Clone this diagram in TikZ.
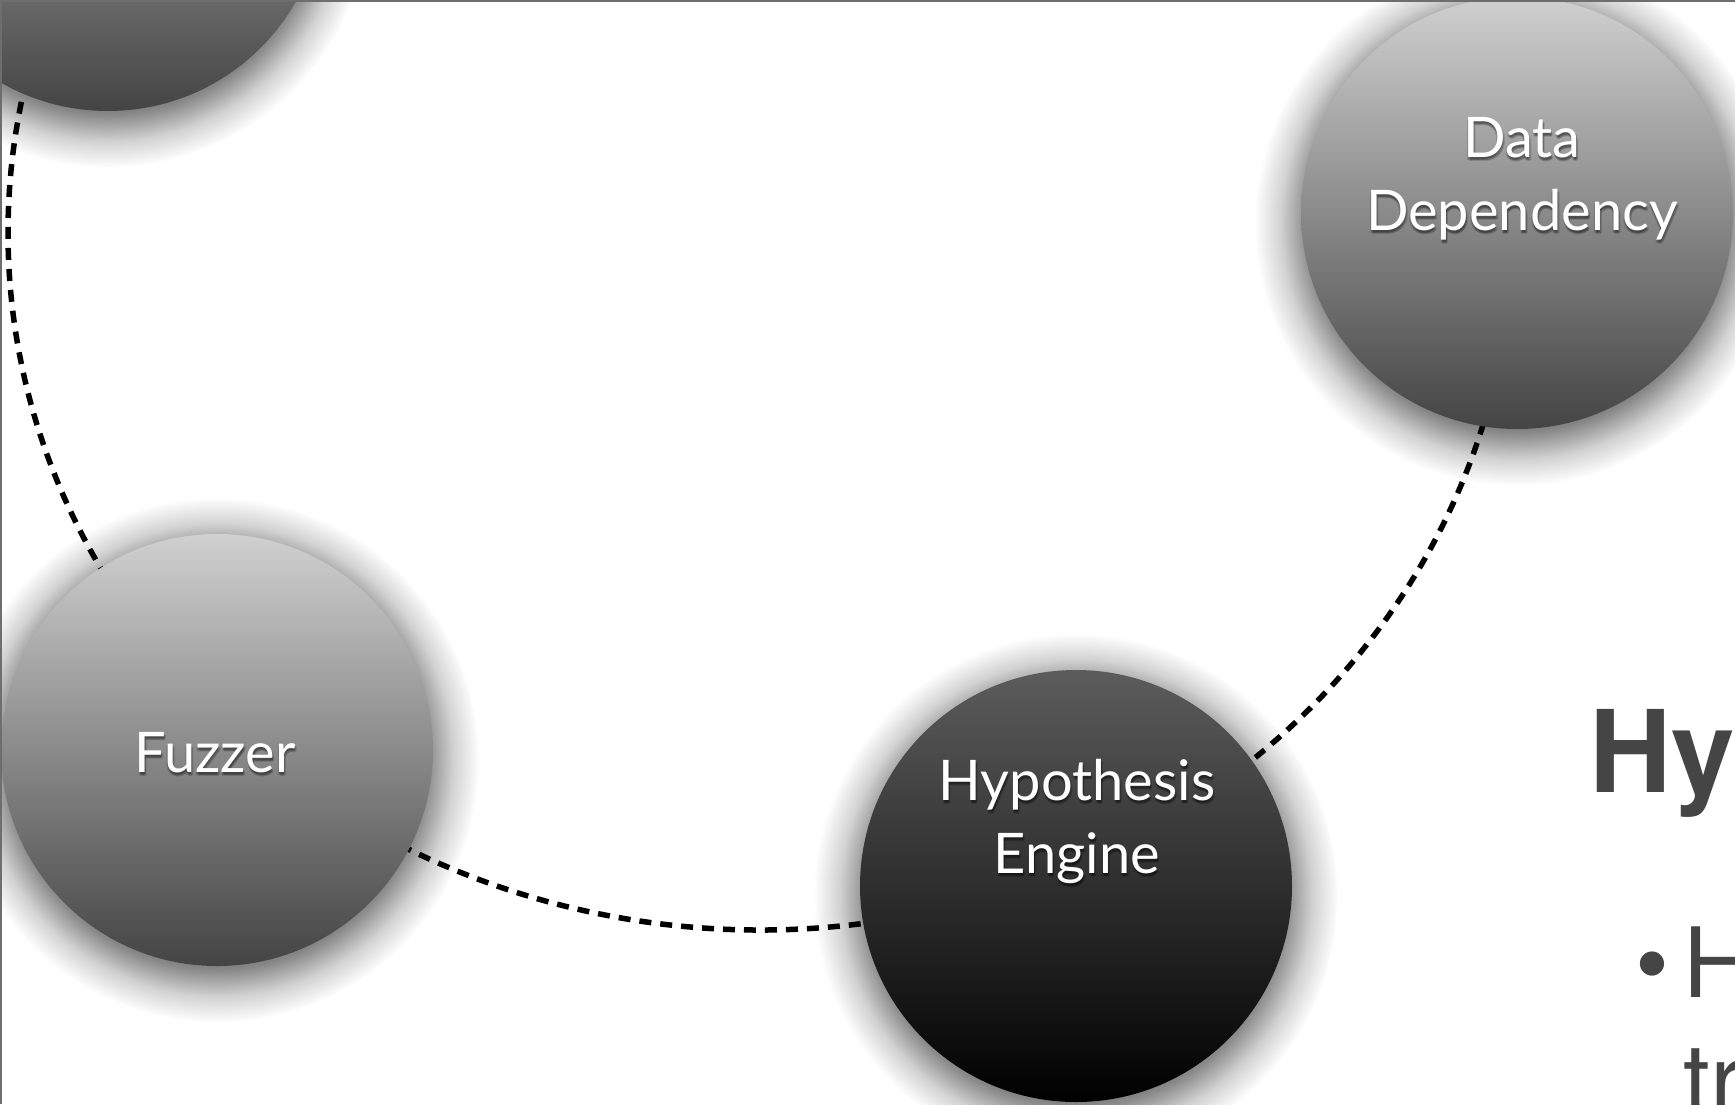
\documentclass[tikz,border=0pt]{standalone}
\usepackage{fontspec}
\usetikzlibrary{fadings}
\newfontfamily\gill{Lato}
\newfontfamily\heros{TeX Gyre Heros}

\definecolor{paleTop}{HTML}{D0D0D0}
\definecolor{paleBot}{HTML}{444444}
\definecolor{darkTop}{HTML}{5C5C5C}
\definecolor{darkBot}{HTML}{000000}
\definecolor{slideText}{HTML}{454545}
\definecolor{frameGray}{HTML}{6E6E6E}

\pgfdeclarelayer{under}
\pgfdeclarelayer{over}
\pgfsetlayers{under,main,over}

% soft round shadow: opaque core, blurred rim
\pgfdeclareradialshading{haloshade}{\pgfpointorigin}{%
  color(0bp)=(pgftransparent!0); color(17bp)=(pgftransparent!0);
  color(20bp)=(pgftransparent!35); color(22.5bp)=(pgftransparent!75);
  color(25bp)=(pgftransparent!100); color(50bp)=(pgftransparent!100)}
\pgfdeclarefading{halo}{\pgfuseshading{haloshade}}

\tikzset{
  ball/.style={circle, minimum size=432pt, inner sep=0pt, draw=none},
  pale/.style={top color=paleTop, bottom color=paleBot},
  dark/.style={top color=darkTop, bottom color=darkBot},
  glow/.style={black, fill opacity=0.7, path fading=halo},
  words/.style={font=\gill\fontsize{56}{73}\selectfont, text=white, inner sep=0pt, anchor=base},
  ring/.style={line width=5.5pt, dash pattern=on 12pt off 9pt},
  frameline/.style={frameGray, line width=2pt},
  headline/.style={font=\heros\bfseries\fontsize{114}{137}\selectfont, text=slideText, inner sep=0pt, anchor=base west},
  bodyline/.style={font=\heros\fontsize{97}{116}\selectfont, text=slideText, inner sep=0pt, anchor=base west}
}

% shaded ball with its shadow: name, centre, colour style
\newcommand\sphere[3]{%
  \begin{pgfonlayer}{under}
    \fill[glow] ([shift={(0,10)}]#2) circle[radius=262];
  \end{pgfonlayer}
  \begin{pgfonlayer}{over}
    \node[ball, #3] (#1) at (#2) {};
  \end{pgfonlayer}}

% white caption with a soft dark shadow: name, baseline point, text
\newcommand\balltext[3]{%
  \begin{pgfonlayer}{over}
    \foreach \dx/\dy in {0.5/2.5, 2/3, 1/4, -0.5/3}
      \node[words, text=black, text opacity=0.15] at ([shift={(\dx,\dy)}]#2) {#3};
    \node[words] (#1) at (#2) {#3};
  \end{pgfonlayer}}

\begin{document}
\begin{tikzpicture}[x=1pt, y=-1pt]
  \useasboundingbox (0,0) rectangle (1735,1104);
  \begin{pgfonlayer}{under}
    \fill[white] (0,0) rectangle (1735,1104);
  \end{pgfonlayer}

  % the four stages
  \sphere{tl}{108,-105}{pale}
  \sphere{fz}{217,750}{pale}
  \sphere{hy}{1076,886}{dark}
  \sphere{dd}{1517,213}{pale}

  \balltext{fz-text}{215,772}{Fuzzer}
  \balltext{hy-top}{1077,800}{Hypothesis}
  \balltext{hy-bot}{1077,873}{Engine}
  \balltext{dd-top}{1522,157}{Data}
  \balltext{dd-bot}{1522,230}{Dependency}

  % dashed loop joining the stages (one ellipse, drawn piecewise)
  \coordinate (hub) at (760,233);
  \path (hub) ++(196:752 and 697) coordinate (tl-port);
  \path (hub) ++(140:752 and 697) coordinate (fz-port);
  \path (hub) ++(70:752 and 697)  coordinate (hy-port);
  \draw[ring] (tl-port) arc[start angle=196, end angle=140, x radius=752, y radius=697];
  \draw[ring] (fz-port) arc[start angle=140, end angle=70, x radius=752, y radius=697];
  \draw[ring] (hy-port) arc[start angle=70, end angle=-5, x radius=752, y radius=697];

  % slide text running off the right edge
  \node[headline] (title) at (1589,792) {Hy};
  \node[bodyline] (bullet) at (1635,997) {•};
  \node[bodyline] (line1) at (1683,997) {H};
  \node[bodyline] (line2) at (1683,1113) {tr};

  % frame edges
  \begin{pgfonlayer}{over}
    \draw[frameline] (0,1) -- (1735,1);
    \draw[frameline] (1,0) -- (1,1104);
  \end{pgfonlayer}
\end{tikzpicture}
\end{document}
